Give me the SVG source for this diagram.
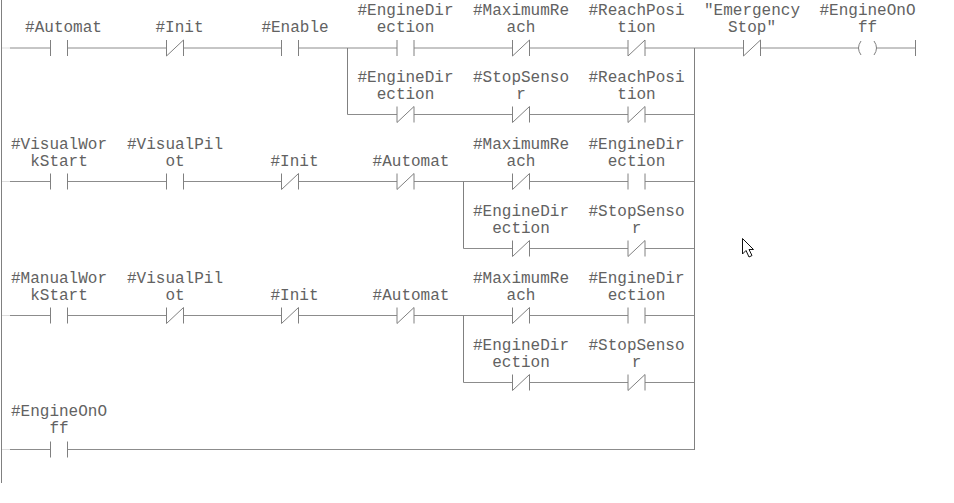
<svg xmlns="http://www.w3.org/2000/svg" width="954" height="503" viewBox="0 0 954 503">
<style>
text{font-family:"Liberation Mono","DejaVu Sans Mono",monospace;font-size:16px;fill:#626262;text-anchor:middle}
.w{stroke:#8c8c8c;stroke-width:1;fill:none}
.s{stroke:#808080;stroke-width:1;fill:none}
.f{stroke:#ddd;stroke-width:1;fill:none}
</style>
<defs>
<g id="no"><path class="s" d="M-8.500-8V8M8.500-8V8"/></g>
<g id="nc"><path class="s" d="M-8.500-8V8M8.500-8V8M-8.500 8L8.500-8"/></g>
</defs>
<rect width="954" height="503" fill="#fff"/>
<g id="connectors">
<path class="s" d="M1.500 0V483"/>
<path class="f" d="M2 48H10M2 181.500H10M2 315.500H10M2 449.500H10"/>
<path class="w" d="M10 48H50.500M67.500 48H166.500M183.500 48H281.500M298.500 48H397M414 48H512.500M529.500 48H628M645 48H743.500M760.500 48H859M876 48H915"/>
<path class="w" d="M347.500 114.500H397M414 114.500H512.500M529.500 114.500H628M645 114.500H694"/>
<path class="w" d="M10 181.500H50.500M67.500 181.500H166.500M183.500 181.500H281.500M298.500 181.500H397M414 181.500H512.500M529.500 181.500H628M645 181.500H694"/>
<path class="w" d="M463.500 248.500H512.500M529.500 248.500H628M645 248.500H694"/>
<path class="w" d="M10 315.500H50.500M67.500 315.500H166.500M183.500 315.500H281.500M298.500 315.500H397M414 315.500H512.500M529.500 315.500H628M645 315.500H694"/>
<path class="w" d="M463.500 382.500H512.500M529.500 382.500H628M645 382.500H694"/>
<path class="w" d="M10 449.500H50.500M67.500 449.500H694"/>
<path class="s" d="M347.500 48V114.500M463.500 181.500V248.500M463.500 315.500V382.500M694.500 48V450"/>
</g>
<g id="n1"><use href="#no" x="59" y="48"/><text x="63.500" y="32">#Automat</text></g>
<g id="n2"><use href="#nc" x="175" y="48"/><text x="179.500" y="32">#Init</text></g>
<g id="n3"><use href="#no" x="290" y="48"/><text x="295" y="32">#Enable</text></g>
<g id="n4"><use href="#no" x="405.500" y="48"/><text x="405.500" y="15">#EngineDir</text><text x="405.500" y="32">ection</text></g>
<g id="n5"><use href="#nc" x="521" y="48"/><text x="521" y="15">#MaximumRe</text><text x="521" y="32">ach</text></g>
<g id="n6"><use href="#nc" x="636.500" y="48"/><text x="636.500" y="15">#ReachPosi</text><text x="636.500" y="32">tion</text></g>
<g id="n7"><use href="#nc" x="752" y="48"/><text x="752" y="15">"Emergency</text><text x="752" y="32">Stop"</text></g>
<g id="n8"><path class="s" d="M861 41Q856 48 861 55M874 41Q879 48 874 55M915.500 40V56"/><text x="867.500" y="15">#EngineOnO</text><text x="867.500" y="32">ff</text></g>
<g id="n9"><use href="#nc" x="405.500" y="114.500"/><text x="405.500" y="82">#EngineDir</text><text x="405.500" y="99">ection</text></g>
<g id="n10"><use href="#nc" x="521" y="114.500"/><text x="521" y="82">#StopSenso</text><text x="521" y="99">r</text></g>
<g id="n11"><use href="#nc" x="636.500" y="114.500"/><text x="636.500" y="82">#ReachPosi</text><text x="636.500" y="99">tion</text></g>
<g id="n12"><use href="#no" x="59" y="181.500"/><text x="59" y="148.500">#VisualWor</text><text x="59" y="165.500">kStart</text></g>
<g id="n13"><use href="#no" x="175" y="181.500"/><text x="175" y="148.500">#VisualPil</text><text x="175" y="165.500">ot</text></g>
<g id="n14"><use href="#nc" x="290" y="181.500"/><text x="294.500" y="165.500">#Init</text></g>
<g id="n15"><use href="#nc" x="405.500" y="181.500"/><text x="411" y="165.500">#Automat</text></g>
<g id="n16"><use href="#nc" x="521" y="181.500"/><text x="521" y="148.500">#MaximumRe</text><text x="521" y="165.500">ach</text></g>
<g id="n17"><use href="#no" x="636.500" y="181.500"/><text x="636.500" y="148.500">#EngineDir</text><text x="636.500" y="165.500">ection</text></g>
<g id="n18"><use href="#nc" x="521" y="248.500"/><text x="521" y="215.500">#EngineDir</text><text x="521" y="232.500">ection</text></g>
<g id="n19"><use href="#nc" x="636.500" y="248.500"/><text x="636.500" y="215.500">#StopSenso</text><text x="636.500" y="232.500">r</text></g>
<g id="n20"><use href="#no" x="59" y="315.500"/><text x="59" y="282.500">#ManualWor</text><text x="59" y="299.500">kStart</text></g>
<g id="n21"><use href="#nc" x="175" y="315.500"/><text x="175" y="282.500">#VisualPil</text><text x="175" y="299.500">ot</text></g>
<g id="n22"><use href="#nc" x="290" y="315.500"/><text x="294.500" y="299.500">#Init</text></g>
<g id="n23"><use href="#nc" x="405.500" y="315.500"/><text x="411" y="299.500">#Automat</text></g>
<g id="n24"><use href="#nc" x="521" y="315.500"/><text x="521" y="282.500">#MaximumRe</text><text x="521" y="299.500">ach</text></g>
<g id="n25"><use href="#no" x="636.500" y="315.500"/><text x="636.500" y="282.500">#EngineDir</text><text x="636.500" y="299.500">ection</text></g>
<g id="n26"><use href="#nc" x="521" y="382.500"/><text x="521" y="349.500">#EngineDir</text><text x="521" y="366.500">ection</text></g>
<g id="n27"><use href="#nc" x="636.500" y="382.500"/><text x="636.500" y="349.500">#StopSenso</text><text x="636.500" y="366.500">r</text></g>
<g id="n28"><use href="#no" x="59" y="449.500"/><text x="59" y="416">#EngineOnO</text><text x="59" y="433">ff</text></g>
<path id="cursor" d="M742.500 238.500V254L746 250.500L749 257L752 255.500L749 249.500H753.500Z" fill="#fff" stroke="#111" stroke-width="1"/>
</svg>
